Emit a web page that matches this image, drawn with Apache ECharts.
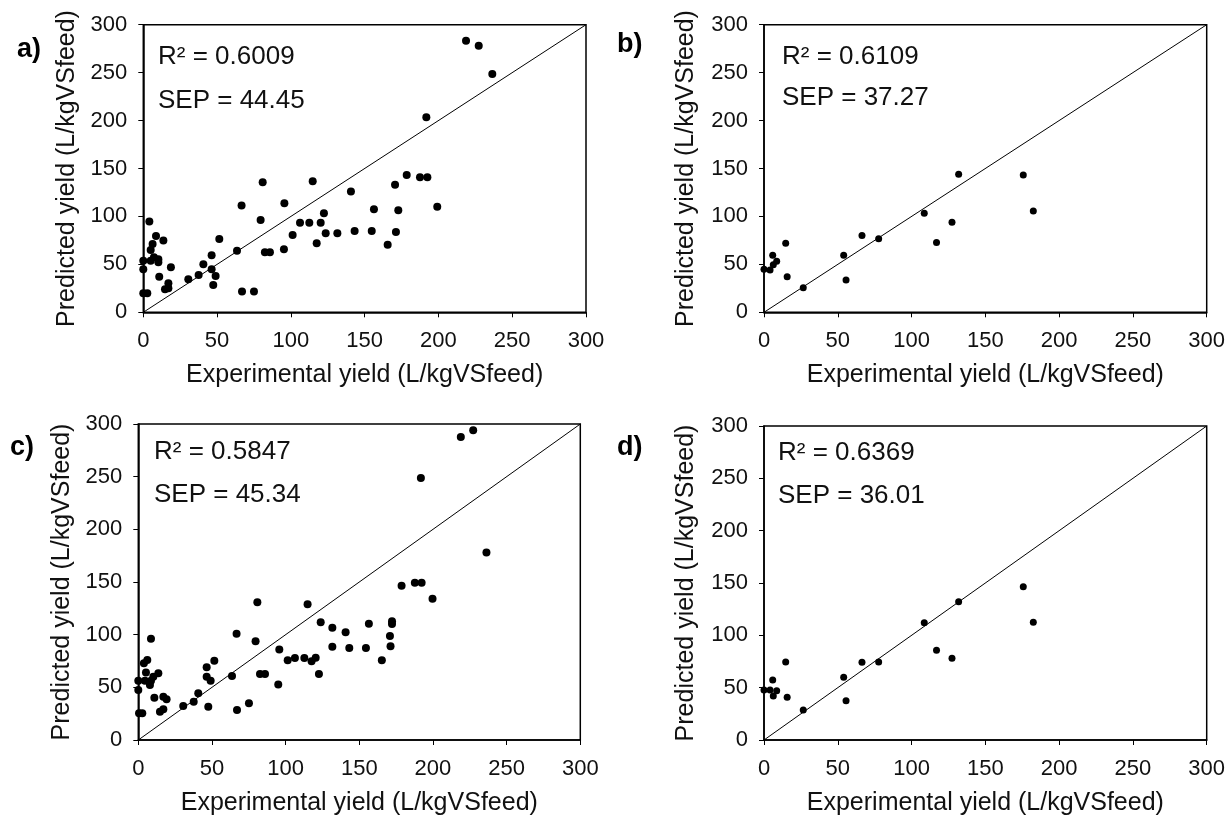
<!DOCTYPE html>
<html>
<head>
<meta charset="utf-8">
<script src="https://cdn.jsdelivr.net/npm/echarts@6/dist/echarts.min.js"></script>
<style>
  html, body { margin: 0; padding: 0; background: #fff; }
  #myChart { width: 1229px; height: 819px; }
</style>
</head>
<body>
<div id="myChart"></div>
<script>
// tick labels shared by every axis
const ticks = [0, 50, 100, 150, 200, 250, 300];
const diagonal = [[0, 0], [300, 300]];

// panel a) experimental vs predicted
const expA = [4.1, 0, 5.0, 7.2, 10.2, 10.2, 5.0, 6.3, 8.6, 13.6, 0, 10.8, 18.7, 0, 2.7, 14.7, 17.0, 17.0,
  30.5, 37.5, 40.7, 46.3, 46.3, 49.0, 47.4, 51.5, 63.5, 66.6, 66.9, 75.0, 79.5, 80.9, 82.4, 85.8,
  95.3, 95.6, 101.2, 106.2, 112.5, 114.8, 117.5, 120.2, 122.4, 123.6, 131.5, 140.7, 143.2,
  154.8, 156.3, 165.6, 170.6, 171.2, 172.8, 178.5, 187.5, 192.5, 199.2, 191.8, 218.7, 227.3, 236.5];
const predA = [94.6, 53.9, 53.9, 57.4, 55.3, 52.2, 65.0, 71.3, 79.6, 74.8, 44.9, 37.2, 46.9, 19.8, 19.8, 24.0, 30.2, 25.0,
  34.4, 38.9, 50.1, 59.5, 44.9, 37.9, 28.5, 76.5, 64.3, 111.3, 21.6, 21.6, 96.3, 135.6, 62.6, 62.6,
  65.7, 113.7, 80.7, 93.5, 93.5, 136.6, 72.0, 93.5, 103.3, 82.4, 82.4, 125.9, 84.8,
  84.8, 107.4, 70.5, 133.1, 83.8, 106.4, 143.2, 140.8, 140.8, 110.0, 203.4, 283.3, 278.1, 248.6];

// panel c)
const expC = [0, 0, 4.5, 8.6, 0.5, 2.7, 3.8, 6.1, 5.2, 8.6, 7.9, 10.2, 13.6, 10.9, 17.0, 19.2, 14.7, 17.0,
  30.5, 37.6, 40.7, 46.4, 46.4, 49.1, 47.5, 51.6, 63.6, 66.7, 67.0, 75.1, 79.6, 80.8, 82.6, 86.0,
  95.0, 95.7, 101.4, 106.3, 112.7, 114.9, 117.6, 120.4, 122.6, 123.8, 131.7, 131.7, 140.7, 143.2,
  154.5, 156.5, 165.3, 170.8, 171.2, 172.2, 172.2, 178.7, 187.7, 192.3, 199.7, 191.8, 236.3, 218.9, 227.3];
const predC = [47.5, 56.3, 56.3, 56.3, 25.3, 25.3, 72.8, 75.9, 64.2, 96.2, 52.2, 60.1, 63.3, 40.2, 41.1, 38.6, 26.9, 29.1,
  32.3, 36.4, 44.3, 69.0, 60.1, 56.3, 31.6, 75.3, 60.8, 100.9, 28.5, 34.8, 93.7, 130.7, 62.7, 62.7,
  52.8, 85.8, 75.6, 77.8, 77.8, 128.8, 74.7, 78.2, 62.7, 111.7, 106.6, 88.6, 102.2, 87.3,
  87.3, 110.4, 75.6, 98.7, 88.9, 112.7, 110.1, 146.5, 149.4, 149.4, 134.2, 248.7, 177.9, 287.7, 294.0];

// panels b) and d) share the experimental values
const expBD = [0, 4.1, 5.9, 6.3, 8.6, 14.7, 15.7, 26.6, 54.0, 55.6, 66.4, 77.7, 108.6, 116.9, 127.4, 131.9, 175.7, 182.5];
const predB = [44.9, 44.2, 59.5, 49.7, 53.2, 72.0, 37.2, 25.7, 59.5, 33.7, 80.0, 76.8, 103.3, 72.7, 93.9, 143.9, 143.2, 105.7];
const predD = [47.8, 47.8, 57.3, 42.0, 47.1, 74.5, 40.8, 28.7, 59.9, 37.6, 74.2, 74.5, 112.1, 85.7, 78.0, 132.2, 146.5, 112.4];

const panelLabels = ['a)', 'b)', 'c)', 'd)'];
const r2Text = ['R² = 0.6009', 'R² = 0.6109', 'R² = 0.5847', 'R² = 0.6369'];
const sepText = ['SEP = 44.45', 'SEP = 37.27', 'SEP = 45.34', 'SEP = 36.01'];

const FONT = "'Liberation Sans', Arial, sans-serif";
const grids = [
  { left: 143.3, top: 24.7, width: 442.7, height: 287.6 },
  { left: 764, top: 24.7, width: 442.7, height: 287.6 },
  { left: 138.3, top: 424, width: 442, height: 316 },
  { left: 764, top: 426, width: 442.7, height: 314 }
];
const panels = [
  { x: expA, y: predA, size: 8, xGap: 50, yGap: 64 },
  { x: expBD, y: predB, size: 7, xGap: 50, yGap: 65 },
  { x: expC, y: predC, size: 8, xGap: 51, yGap: 64 },
  { x: expBD, y: predD, size: 7, xGap: 51, yGap: 65 }
];
// text spots: [letter x, letter y, stats x, R² y, SEP y]
const textPos = [
  [17, 36, 158, 44, 88],
  [617, 31, 782, 44, 85],
  [10, 434, 154, 439, 482],
  [617, 434, 778, 440, 483]
];

function axisCommon(name, gap, rotate) {
  return {
    type: 'value', min: 0, max: 300, interval: 50,
    name: name, nameLocation: 'middle', nameGap: gap, nameRotate: rotate,
    nameTextStyle: { fontFamily: FONT, fontSize: 25, color: '#111' },
    axisLine: { show: true, lineStyle: { color: '#000', width: 1.5 } },
    axisTick: { show: true, inside: false, length: 5, lineStyle: { color: '#000', width: 1 } },
    axisLabel: {
      fontFamily: FONT, fontSize: 22, color: '#111', margin: rotate ? 16 : 18,
      formatter: v => ticks.indexOf(v) >= 0 ? String(v) : ''
    },
    splitLine: { show: false }
  };
}

let myChart = echarts.init(document.getElementById('myChart'), null, { renderer: 'canvas' });

const option = {
  animation: false,
  backgroundColor: '#fff',
  grid: grids.map(g => Object.assign({ show: true, borderColor: '#000', borderWidth: 1.5, containLabel: false }, g)),
  xAxis: panels.map((p, i) => Object.assign(axisCommon('Experimental yield (L/kgVSfeed)', p.xGap, 0), { gridIndex: i })),
  yAxis: panels.map((p, i) => Object.assign(axisCommon('Predicted yield (L/kgVSfeed)', p.yGap, 90), { gridIndex: i })),
  series: [],
  graphic: []
};

panels.forEach((p, i) => {
  option.series.push({
    type: 'line', xAxisIndex: i, yAxisIndex: i,
    data: diagonal, showSymbol: false, silent: true,
    lineStyle: { color: '#000', width: 1 }
  });
  option.series.push({
    type: 'scatter', xAxisIndex: i, yAxisIndex: i,
    symbolSize: p.size,
    itemStyle: { color: '#000', opacity: 1 },
    data: p.x.map((v, k) => [v, p.y[k]])
  });
  const t = textPos[i];
  option.graphic.push(
    { type: 'text', left: t[0], top: t[1], style: { text: panelLabels[i], font: 'bold 27px ' + FONT, fill: '#000' } },
    { type: 'text', left: t[2], top: t[3], style: { text: r2Text[i], font: '26px ' + FONT, fill: '#111' } },
    { type: 'text', left: t[2], top: t[4], style: { text: sepText[i], font: '26px ' + FONT, fill: '#111' } }
  );
});

myChart.setOption(option);
</script>
</body>
</html>
